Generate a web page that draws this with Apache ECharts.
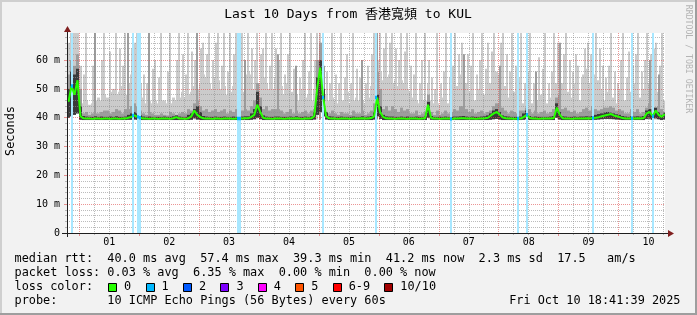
<!DOCTYPE html>
<html><head><meta charset="utf-8">
<script src="https://cdn.jsdelivr.net/npm/echarts@6/dist/echarts.min.js"></script>
<style>html,body{margin:0;padding:0;background:#f2f2f2}#c{width:697px;height:315px}</style>
</head><body><div id="c"></div><script>
// ---- data (time in days from Oct 1 00:00, values in ms) ----
const sampleStart = -0.18;   // centre of first 72-minute sample
const sampleStep = 0.05;
const xMin = -0.205, xMax = 9.775;
const yMax = 69.4;
const dayLabels = ['01','02','03','04','05','06','07','08','09','10'];
const yTickValues = [0,10,20,30,40,50,60];
const yTickLabels = ['0','10 m','20 m','30 m','40 m','50 m','60 m'];

// broad smoke top (highest ping, averaged per sample)
const hiPing = [
66,69.4,69.4,69.4,58,45,46,44.5,45,46,
47,46,48,47,49,50,48,49,51,48,
52,55,58,54,52,47,45,46,45,46,
45,46,46,45,45,47,46,47,49,47,
48,49,51,50,52,55,54,52,50,54,
53,50,51,48,49,51,50,49,49,47,
56,55,50,52,52,54,52,50,50,54,
50,51,48,52,49,49,48,46,50,47,
48,46,50,60,66,58,48,46,47,46,
45,46,46,49,45,46,47,46,46,45,
47,51,55,60,56,53,54,55,52,53,
51,53,52,50,49,47,46,45,46,46,
52,46,45,45,44.5,47,46,45,49,51,
51,55,54,52,49,48,46,50,48,48,
49,52,55,56,55,54,51,47,48,49,
46,47,45,47,46,45,46,46,48,47,
45,47,49,52,54,52,51,49,47,52,
45,46,55,57,52,54,55,53,50,46,
49,48,47,45,50,49,46,45,49,52,
51,47,50,49,52,55,51,49,50,46];

const midPing = [
55,60,58,62,50,41.5,42,41,41.5,41.5,
41.5,42,42.5,42.5,41.5,42,43,42.5,41.5,43,
43,44,45,44,42.5,41.5,41,42,41.5,41,
41,41.5,41,40.8,42,41.5,41,41.5,42,41.5,
43,42.5,45,46,44,42.5,43,42,42.5,43,
42,42.5,43,41.5,42.5,42,43,41.5,42.5,43,
42.5,44,46,52,47,43,44,42.5,43,43,
43,42.5,41.5,42,43,41.5,42.5,41.5,42,42.5,
41.5,42.5,43,60,66,58,42,41.5,42.5,41.5,
41,42,41.5,41.5,41,42.5,41.5,41.5,42.5,41,
41.5,42.5,45,56,50,43,44,42.5,44,43,
42,43.5,42.5,43,41.5,41.5,42.5,41,41.5,42,
48,42,41,42.5,41,41.5,42.5,41.5,42,43,
42.5,44,44,43,42,43,41.5,42,42.5,41.5,
42,42.5,44,45,45,43.5,42.5,41.5,42.5,42,
41.5,42.5,42.5,43.5,43,41.5,42.5,41.5,42,42.5,
41.5,42,43,47,48,43,43.5,42.5,42,42.5,
41.5,42,43,43.5,42.5,44,43,42.5,43,43.5,
43.5,44,43.5,42.5,43,42.5,41.5,41.5,43,42,
43,41.5,42,43.5,45,43,42.5,44,43,41.5];

const corePing = [
50,56,55,57,44,40.6,40.4,40.3,40.3,40.5,
40.3,40.4,40.3,40.3,40.4,40.3,40.5,40.3,40.3,40.4,
41,41.5,42,41.5,40.8,40.4,40.3,40.4,40.3,40.3,
40.3,40.3,40.4,40.3,40.3,40.5,40.8,40.4,40.3,40.3,
41,41.5,43,44,42,40.6,40.4,40.3,40.3,40.4,
40.3,40.3,40.4,40.3,40.3,40.4,40.3,40.3,40.4,40.5,
40.5,41.5,43,49,44,40.8,40.4,40.3,40.3,40.4,
40.4,40.3,40.3,40.3,40.4,40.3,40.5,40.3,40.3,40.4,
40.3,40.5,42,54,60,50,42,40.5,40.4,40.3,
40.3,40.4,40.3,40.3,40.3,40.4,40.3,40.3,40.5,40.3,
40.4,40.6,42,48,44,41,40.5,40.4,40.4,40.3,
40.3,40.4,40.3,40.4,40.3,40.3,40.4,40.3,40.3,40.5,
45.5,40.6,40.3,40.3,40.3,40.3,40.4,40.3,40.3,40.4,
40.4,40.5,40.6,40.4,40.3,40.4,40.3,40.3,40.4,40.5,
40.8,41.5,42.5,43,42,40.8,40.5,40.4,40.3,40.3,
40.3,40.4,41.5,42.5,40.6,40.3,40.4,40.3,40.3,40.3,
40.3,40.4,40.6,45,42,40.5,40.4,40.3,40.3,40.4,
40.3,40.4,40.4,40.5,40.4,40.6,41,41.3,41.5,41.8,
42,41.8,41.5,41.2,41,40.6,40.4,40.3,40.5,40.4,
40.5,40.4,40.6,42.5,43,41,43.5,42,41,41.8];

const medPing = [
45.5,51,48,53,40.5,39.8,39.7,39.7,39.6,39.7,
39.7,39.6,39.7,39.7,39.6,39.7,39.7,39.6,39.7,39.7,
40,40.3,40.8,40.3,40,39.7,39.7,39.6,39.7,39.7,
39.6,39.7,39.7,39.7,39.6,39.8,40.2,39.7,39.7,39.6,
39.8,40.5,42.5,41,40.2,39.8,39.7,39.7,39.6,39.7,
39.7,39.6,39.7,39.7,39.7,39.6,39.7,39.7,39.7,39.8,
39.8,40.3,41,44.5,42,40,39.7,39.7,39.6,39.7,
39.7,39.7,39.6,39.7,39.7,39.7,39.8,39.7,39.6,39.7,
39.7,39.8,40.5,50,57.4,47,40.5,39.8,39.7,39.7,
39.6,39.7,39.7,39.7,39.6,39.7,39.7,39.7,39.8,39.7,
39.7,39.9,40.5,47,42,40.3,39.8,39.7,39.7,39.6,
39.7,39.7,39.7,39.6,39.7,39.7,39.7,39.6,39.7,39.8,
44.5,40,39.7,39.7,39.6,39.7,39.7,39.7,39.6,39.7,
39.7,39.8,39.8,39.7,39.7,39.7,39.6,39.7,39.7,39.8,
40,40.8,41.5,42,41,40.1,39.8,39.7,39.7,39.6,
39.7,39.7,40.3,41,39.9,39.7,39.7,39.6,39.7,39.7,
39.7,39.7,39.9,43.5,41,39.8,39.7,39.7,39.6,39.7,
39.7,39.7,39.7,39.8,39.7,39.9,40,40.2,40.5,40.8,
41,41.3,40.8,40.5,40.2,39.9,39.7,39.7,39.8,39.7,
39.8,39.7,39.9,41.5,42,40.5,42.5,41,40.3,41.2];

const loPing = [
40,40.5,41,41.5,39.3,39.2,39.2,39.2,39.2,39.2,
39.2,39.2,39.2,39.2,39.2,39.2,39.2,39.2,39.2,39.2,
39.3,39.3,39.4,39.3,39.2,39.2,39.2,39.2,39.2,39.2,
39.2,39.2,39.2,39.2,39.2,39.2,39.2,39.2,39.2,39.2,
39.2,39.3,39.8,39.4,39.2,39.2,39.2,39.2,39.2,39.2,
39.2,39.2,39.2,39.2,39.2,39.2,39.2,39.2,39.2,39.2,
39.2,39.3,39.5,40,39.5,39.2,39.2,39.2,39.2,39.2,
39.2,39.2,39.2,39.2,39.2,39.2,39.2,39.2,39.2,39.2,
39.2,39.2,39.4,41,42,40.5,39.4,39.2,39.2,39.2,
39.2,39.2,39.2,39.2,39.2,39.2,39.2,39.2,39.2,39.2,
39.2,39.2,39.4,40.5,39.6,39.2,39.2,39.2,39.2,39.2,
39.2,39.2,39.2,39.2,39.2,39.2,39.2,39.2,39.2,39.2,
40,39.3,39.2,39.2,39.2,39.2,39.2,39.2,39.2,39.2,
39.2,39.2,39.2,39.2,39.2,39.2,39.2,39.2,39.2,39.2,
39.2,39.3,39.5,39.6,39.4,39.2,39.2,39.2,39.2,39.2,
39.2,39.2,39.3,39.5,39.2,39.2,39.2,39.2,39.2,39.2,
39.2,39.2,39.2,40,39.4,39.2,39.2,39.2,39.2,39.2,
39.2,39.2,39.2,39.2,39.2,39.2,39.3,39.4,39.5,39.6,
39.6,39.6,39.5,39.4,39.3,39.2,39.2,39.2,39.2,39.2,
39.2,39.2,39.2,39.6,39.7,39.3,39.8,39.5,39.2,39.4];

// narrow spikes of the highest ping
const needleTime = [0.12,0.42,0.52,0.62,0.77,0.97,1.27,1.37,1.52,1.67,1.82,2.07,2.17,2.32,2.42,2.52,2.62,2.72,2.82,2.97,3.07,3.12,3.22,3.37,3.52,3.77,3.87,3.97,4.02,4.07,4.22,4.37,4.47,4.57,4.82,4.92,5.02,5.12,5.22,5.37,5.47,5.62,5.72,5.77,5.97,6.12,6.27,6.57,6.72,6.82,6.92,7.07,7.22,7.37,7.52,7.67,7.77,7.92,8.12,8.32,8.62,8.87,9.07,9.17,9.32,9.47,9.62,9.72,
 0.087,0.237,0.387,0.687,0.737,0.887,0.937,1.087,1.137,1.237,1.337,1.487,1.637,1.737,1.787,1.887,1.937,2.037,2.137,2.237,2.287,2.387,2.487,2.587,2.687,2.787,2.887,2.937,3.037,3.187,3.287,3.337,3.437,3.487,3.587,3.687,3.737,3.837,3.937,4.137,4.187,4.287,4.337,4.437,4.537,4.637,4.687,4.787,4.887,5.087,5.187,5.287,5.337,5.437,5.537,5.587,5.687,5.837,5.887,5.937,6.037,6.087,6.187,6.237,6.337,6.387,6.487,6.537,6.637,6.687,6.787,6.887,7.037,7.137,7.187,7.287,7.337,7.437,7.487,7.587,7.737,7.837,7.887,7.987,8.087,8.187,8.237,8.287,8.387,8.437,8.487,8.537,8.687,8.737,8.787,8.837,8.937,8.987,9.037,9.137,9.237,9.287,9.387,9.437,9.537,9.587,9.687];
const needleTop  = [69.4,69.4,63,69.4,69.4,69.4,60,69.4,69.4,69.4,69.4,66,69.4,69.4,69.4,69.4,69.4,69.4,69.4,69.4,64,69.4,69.4,69.4,69.4,69.4,69.4,69.4,69.4,69.4,69.4,69.4,62,69.4,58,69.4,69.4,69.4,69.4,69.4,69.4,69.4,60,69.4,69.4,69.4,69.4,69.4,69.4,66,69.4,69.4,69.4,69.4,69.4,61,69.4,69.4,69.4,58,69.4,69.4,69.4,63,69.4,69.4,66,69.4,
 55,58,60,64,58,64,66,55,52,57,54,56,60,62,55,63,60,64,62,60,66,58,56,62,57,55,64,60,62,58,64,60,55,62,57,54,60,56,60,56,52,55,52,54,52,57,54,52,62,64,66,64,60,63,58,55,52,60,54,50,52,56,54,58,62,66,62,58,55,60,57,63,66,62,56,58,54,52,56,52,57,52,56,66,62,60,56,62,54,64,66,62,64,58,54,58,56,52,60,54,58,62,56,60,62,64,58];
// narrow spikes of the second-highest pings
const darkNeedleTime = [0.27,0.82,1.17,1.97,2.77,3.32,3.62,4.02,4.72,4.97,6.42,7.02,7.62,8.02,8.57,9.22,9.52,9.67];
const darkNeedleTop  = [69.4,69.4,69.4,69.4,60,62,58,66,60,69.4,62,58,56,66,69.4,58,60,55];

// packet loss events (time, pings lost of 10)
const lossTime  = [-0.127,0.901,0.988,1.005,2.649,2.674,4.072,4.947,6.198,7.326,7.467,8.578,9.219,9.579];
const lossCount = [1,1,1,1,1,1,1,1,1,1,1,1,1,1];

const lossColors = ['#26ff00','#00b8ff','#0059ff','#7e00ff','#ff00ff','#ff5500','#ff0000','#a10000'];
const lossLabels = ['0','1','2','3','4','5','6-9','10/10'];

const statNames = ['avg','max','min','now'];
const rttStats  = [40.0, 57.4, 39.3, 41.2];
const rttSd = 2.3, rttAmS = 17.5;
const lossStats = [0.03, 6.35, 0.00, 0.00];
const titleText = 'Last 10 Days from 香港寬頻 to KUL';
const probeText = 'probe:       10 ICMP Echo Pings (56 Bytes) every 60s';
const dateText  = 'Fri Oct 10 18:41:39 2025';

// ---- styling ----
const FONT = "'DejaVu Sans Mono', 'Noto Sans CJK TC', monospace";
const GRID_C = 'rgba(143,143,143,0.6)';
const MGRID_C = 'rgba(222,79,79,0.6)';
const ARROW_C = '#801f1f';
const C_LIGHT = '#cbcbcb', C_MID = '#9d9d9d', C_CORE = '#3a3a3a';

function tint(hex, a){
  const n = parseInt(hex.slice(1),16);
  const r=(n>>16)&255,g=(n>>8)&255,b=n&255;
  const m=v=>Math.round(255-(255-v)*a);
  return 'rgb('+m(r)+','+m(g)+','+m(b)+')';
}

const times = hiPing.map((_, i) => sampleStart + i*sampleStep);
const smokeData = times.map((t, i) => [t, loPing[i], hiPing[i], midPing[i], corePing[i]]);
const nearestMed = t => medPing[Math.max(0, Math.min(medPing.length-1, Math.round((t-sampleStart)/sampleStep)))];

const xMinor = [], xMajor = [];
for (let q = Math.ceil(xMin*4); q <= Math.floor(xMax*4); q++) { const v=q/4; if (q%4===0) xMajor.push(v); else xMinor.push(v); }
const yMinor = [];
for (let v = 2; v < yMax; v += 2) if (v % 10 !== 0) yMinor.push(v);
const yMajor = yTickValues.filter(v => v > 0);
const dayLabelPos = dayLabels.map((_, k) => k + 0.5);

function bandSeries(idx, color){
  return {
    type:'custom', z:1, clip:true, data: smokeData, encode:{x:0, y:[1,idx]},
    renderItem(params, api){
      const t = api.value(0);
      const xa = Math.round(api.coord([t - sampleStep/2, 0])[0]);
      const xb = Math.round(api.coord([t + sampleStep/2, 0])[0]);
      const yl = api.coord([t, api.value(1)])[1];
      const yv = api.coord([t, api.value(idx)])[1];
      return {type:'rect', shape:{x:xa, y:yv, width:xb-xa, height:yl-yv}, style:{fill:color}};
    }
  };
}
// vertical strokes, all drawn in one group through the axis scales
function strokeSeries(tArr, botFn, topFn, colorFn, z, lw){
  return {
    type:'custom', z:z, clip:true, data:[[tArr[0], 0]], encode:{x:0, y:1},
    renderItem(params, api){
      const children = tArr.map((t, k) => {
        const x = Math.round(api.coord([t, 0])[0]) + (lw % 2 ? 0.5 : 0);
        const yb = api.coord([t, botFn(k)])[1];
        const yt = api.coord([t, topFn(k)])[1];
        return {type:'line', shape:{x1:x, y1:yb, x2:x, y2:yt}, style:{stroke:colorFn(k), lineWidth:lw}};
      });
      return {type:'group', children:children};
    }
  };
}

const chart = echarts.init(document.getElementById('c'), null, {renderer:'canvas'});

const axisFont = {fontFamily: FONT, fontSize: 10, color:'#000'};
const W = 7.14, X0 = 14.5;
const line1 = 'median rtt:  ' + rttStats.map((v,k)=>v.toFixed(1)+' ms '+statNames[k]).join('  ') + '  ' + rttSd.toFixed(1) + ' ms sd  ' + rttAmS.toFixed(1) + '   am/s';
const line2 = 'packet loss: ' + lossStats.map((v,k)=>v.toFixed(2)+' % '+statNames[k]).join('  ');
const txt = (text, x, y, extra) => ({type:'text', x:x, y:y, z:100, style:Object.assign({text:text, fill:'#000', fontFamily:FONT, fontSize:11.86, align:'left', verticalAlign:'middle'}, extra||{})});

const graphics = [
  {type:'rect', z:100, shape:{x:0,y:0,width:697,height:2}, style:{fill:'#cfcfcf'}},
  {type:'rect', z:100, shape:{x:0,y:0,width:2,height:315}, style:{fill:'#cfcfcf'}},
  {type:'rect', z:100, shape:{x:0,y:313,width:697,height:2}, style:{fill:'#9e9e9e'}},
  {type:'rect', z:100, shape:{x:695,y:0,width:2,height:315}, style:{fill:'#9e9e9e'}},
  {type:'line', z:100, shape:{x1:62,y1:233.5,x2:668,y2:233.5}, style:{stroke:'#1f1f1f',lineWidth:1}},
  {type:'line', z:100, shape:{x1:67.5,y1:30,x2:67.5,y2:237}, style:{stroke:'#1f1f1f',lineWidth:1}},
  {type:'polygon', z:101, shape:{points:[[64,32],[71,32],[67.5,26]]}, style:{fill:ARROW_C}},
  {type:'polygon', z:101, shape:{points:[[668,230],[668,237],[674,233.5]]}, style:{fill:ARROW_C}},
  txt(titleText, 348, 14.3, {fontSize:13, align:'center'}),
  {type:'text', x:11, y:131, rotation:Math.PI/2, z:100, style:{text:'Seconds', fill:'#000', fontFamily:FONT, fontSize:11.86, align:'center', verticalAlign:'middle'}},
  {type:'text', x:688.5, y:59, rotation:-Math.PI/2, z:100, style:{text:'RRDTOOL / TOBI OETIKER', fill:'#b4b4b4', fontFamily:FONT, fontSize:8.2, align:'center', verticalAlign:'middle'}},
  txt(line1, X0, 259.2),
  txt(line2, X0, 273),
  txt('loss color:', X0, 287.2),
  txt(probeText, X0, 301),
  txt(dateText, 680.5, 301, {align:'right'})
];
let bx = X0 + 13*W + 0.8;
lossLabels.forEach((lab, k) => {
  graphics.push({type:'rect', z:100, shape:{x:Math.round(bx)+0.5, y:283.5, width:8, height:8}, style:{fill:lossColors[k], stroke:'#000', lineWidth:1}});
  const lx = bx + 16;
  graphics.push(txt(lab, lx, 287.2));
  bx = lx + (lab.length + 2) * W;
});

chart.setOption({
  animation:false,
  backgroundColor:'#f2f2f2',
  grid:{left:67, right:32, top:33, bottom:82, show:true, backgroundColor:'#ffffff', borderWidth:0},
  xAxis:[
    {type:'value', min:xMin, max:xMax, position:'bottom', z:2,
     axisLine:{show:false}, axisLabel:{show:false},
     axisTick:{show:true, length:2, customValues:xMinor, lineStyle:{color:GRID_C}},
     splitLine:{show:true, lineStyle:{color:GRID_C, type:[1,1], width:1}}},
    {type:'value', min:xMin, max:xMax, position:'bottom', z:2,
     axisLine:{show:true, onZero:false, lineStyle:{color:'#1f1f1f'}},
     axisTick:{show:true, length:3, customValues:xMajor, lineStyle:{color:MGRID_C}},
     axisLabel:Object.assign({customValues:dayLabelPos, margin:4, formatter:v=>dayLabels[Math.floor(v)]}, axisFont),
     splitLine:{show:true, lineStyle:{color:MGRID_C, type:[1,1], width:1}}}
  ],
  yAxis:[
    {type:'value', min:0, max:yMax, position:'left', z:2,
     axisLine:{show:false, onZero:false}, axisLabel:{show:false},
     axisTick:{show:true, length:2, customValues:yMinor, lineStyle:{color:GRID_C}},
     splitLine:{show:true, lineStyle:{color:GRID_C, type:[1,1], width:1}}},
    {type:'value', min:0, max:yMax, position:'left', z:2,
     axisLine:{show:true, onZero:false, lineStyle:{color:'#1f1f1f'}},
     axisTick:{show:true, length:3, customValues:yMajor, lineStyle:{color:MGRID_C}},
     axisLabel:Object.assign({customValues:yTickValues, margin:7, formatter:v=>yTickLabels[yTickValues.indexOf(v)]}, axisFont),
     splitLine:{show:true, lineStyle:{color:MGRID_C, type:[1,1], width:1}}}
  ],
  series:[
    bandSeries(2, C_LIGHT),
    strokeSeries(needleTime, () => 39.4, k => needleTop[k], () => C_LIGHT, 1, 2),
    bandSeries(3, C_MID),
    strokeSeries(darkNeedleTime, () => 39.4, k => darkNeedleTop[k], () => C_MID, 1, 2),
    bandSeries(4, C_CORE),
    strokeSeries(lossTime, () => 0, () => yMax, k => tint(lossColors[lossCount[k]], 0.34), 3, 2),
    {type:'line', z:4, data: times.map((t,i)=>[t, medPing[i]]), symbol:'none', clip:true,
     lineStyle:{color:lossColors[0], width:2}},
    strokeSeries(lossTime, k => nearestMed(lossTime[k]) - 0.6, k => nearestMed(lossTime[k]) + 0.6, k => lossColors[lossCount[k]], 5, 2)
  ],
  graphic: graphics
});
</script></body></html>
